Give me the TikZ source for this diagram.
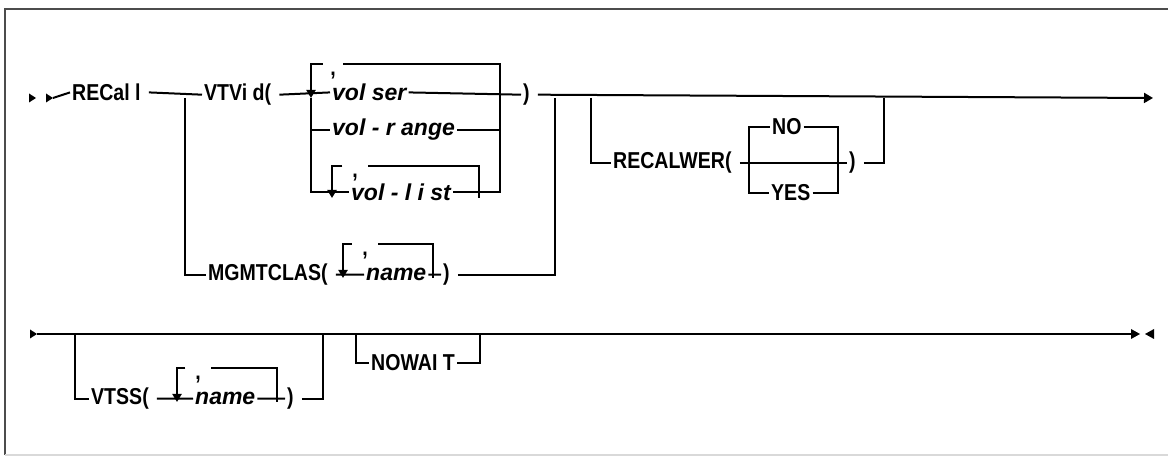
\documentclass[tikz,border=0pt]{standalone}
\usepackage{fontspec}
\setmainfont{Liberation Sans}[BoldFeatures={FakeStretch=0.85}]
\usetikzlibrary{arrows.meta}

\newcommand\kwfont{\fontsize{23bp}{27bp}\selectfont\bfseries}
\newcommand\varfont{\fontsize{23bp}{27bp}\selectfont\bfseries\itshape}

\tikzset{
  kw/.style={font=\kwfont, inner xsep=2bp, inner ysep=0pt, anchor=mid west},
  kwsp/.style={kw, execute at end node=\hspace{6bp}},
  var/.style={kw, font=\varfont},
  sepnode/.style={font=\kwfont, inner sep=0pt, text height=24bp, text depth=0pt, minimum width=#1},
  rail/.style={line width=2bp},
  rep/.style={rail, -{Triangle[width=9bp,length=8bp]}},
}

\begin{document}
\begin{tikzpicture}[x=1bp, y=-1bp]
    \useasboundingbox (0,0) rectangle (1168,457);
    % frame
    \draw[black!70, line width=1.5bp] (5,455) -- (5,9) -- (1168,9);
    \draw[black!15, line width=1.5bp] (5,455) -- (1168,455);

    % row 1
    \coordinate (t1) at (36,98);
    \coordinate (s1) at (53,98);
    \node[kwsp] (recall) at (70,98) {RECal l};
    \coordinate (b1) at (185,98);
    \node[kwsp] (vtvid) at (202,98) {VTVi d(};
    \coordinate (l1) at (311,98);
    \node[var] (volser) at (330,98) {vol ser};
    \coordinate (r1) at (500,98);
    \node[kwsp] (close1) at (521,98) {)};
    \coordinate (j1) at (555,98);
    \coordinate (b2) at (591,98);
    \coordinate (j2) at (884,98);
    \coordinate (e1) at (1153,98);

    \fill (t1) -- ++(-7,-4.5) -- ++(0,9) -- cycle;
    \fill (s1) -- ++(-7,-4.5) -- ++(0,9) -- cycle;
    \draw[rail] (s1) -- (recall.west);
    \draw[rail] (recall.east) -- (vtvid.west);
    \draw[rail] (vtvid.east) -- (volser.west);
    \draw[rail] (volser.east) -- (close1.west);
    \draw[rail, -{Triangle[width=10bp,length=9bp]}] (close1.east) -- (e1);

    % VTVid choices
    \node[var] (volrange) at (330,133) {vol - r ange};
    \coordinate (l2) at (332,198);
    \node[var] (vollist) at (349,198) {vol - l i st};
    \coordinate (r2) at (479,198);
    \draw[rail] (l1) |- (volrange.west);
    \draw[rail] (l1) |- (vollist.west);
    \draw[rail] (volrange.east) -| (r1);
    \draw[rail] (vollist.east) -| (r1);
    \node[sepnode=20bp] (c1) at (333,64) {,};
    \draw[rail] (r1) |- (c1.east);
    \draw[rep] (c1.west) -| (l1);
    \node[sepnode=25bp] (c2) at (355,166) {,};
    \draw[rail] (r2) |- (c2.east);
    \draw[rep] (c2.west) -| (l2);

    % MGMTCLAS
    \node[kwsp] (mgmt) at (206,278) {MGMTCLAS(};
    \coordinate (l3) at (343,278);
    \node[var] (name1) at (364,278) {name};
    \coordinate (r3) at (433,278);
    \node[kwsp] (close2) at (441,278) {)};
    \draw[rail] (b1) |- (mgmt.west);
    \draw[rail] (mgmt.east) -- (name1.west);
    \draw[rail] (name1.east) -- (close2.west);
    \draw[rail] (close2.east) -| (j1);
    \node[sepnode=26bp] (c3) at (365,244) {,};
    \draw[rail] (r3) |- (c3.east);
    \draw[rep] (c3.west) -| (l3);

    % RECALWER
    \node[kwsp] (recw) at (611,166) {RECALWER(};
    \coordinate (l4) at (749,166);
    \coordinate (r4) at (838,166);
    \node[kw] (no) at (770,132) {NO};
    \node[kw] (yes) at (769,198) {YES};
    \node[kwsp] (close3) at (847,166) {)};
    \draw[rail] (b2) |- (recw.west);
    \draw[rail] (recw.east) -- (close3.west);
    \draw[rail] (l4) |- (no.west);
    \draw[rail] (no.east) -| (r4);
    \draw[rail] (l4) |- (yes.west);
    \draw[rail] (yes.east) -| (r4);
    \draw[rail] (close3.east) -| (j2);

    % row 2
    \coordinate (s2) at (37,334);
    \coordinate (b3) at (75,334);
    \coordinate (j3) at (323,334);
    \coordinate (b4) at (356,334);
    \coordinate (j4) at (480,334);
    \coordinate (e2) at (1131,334);
    \coordinate (t2) at (1140,334);
    \coordinate (t3) at (1145,334);
    \fill (s2) -- ++(-7,-4.5) -- ++(0,9) -- cycle;
    \draw[rail] (s2) -- (e2);
    \fill (t2) -- ++(-9,-5) -- ++(0,10) -- cycle;
    \fill (t3) -- ++(9,-5) -- ++(0,10) -- cycle;

    % VTSS
    \node[kwsp] (vtss) at (89,402) {VTSS(};
    \coordinate (l5) at (177,402);
    \node[var] (name2) at (193,402) {name};
    \coordinate (r5) at (277,402);
    \node[kwsp] (close4) at (285,402) {)};
    \draw[rail] (b3) |- (vtss.west);
    \draw[rail] (vtss.east) -- (name2.west);
    \draw[rail] (name2.east) -- (close4.west);
    \draw[rail] (close4.east) -| (j3);
    \node[sepnode=25bp] (c4) at (198,368) {,};
    \draw[rail] (r5) |- (c4.east);
    \draw[rep] (c4.west) -| (l5);

    % NOWAIT
    \node[kw] (nowait) at (369,368) {NOWAI T};
    \draw[rail] (b4) |- (nowait.west);
    \draw[rail] (nowait.east) -| (j4);
\end{tikzpicture}
\end{document}
